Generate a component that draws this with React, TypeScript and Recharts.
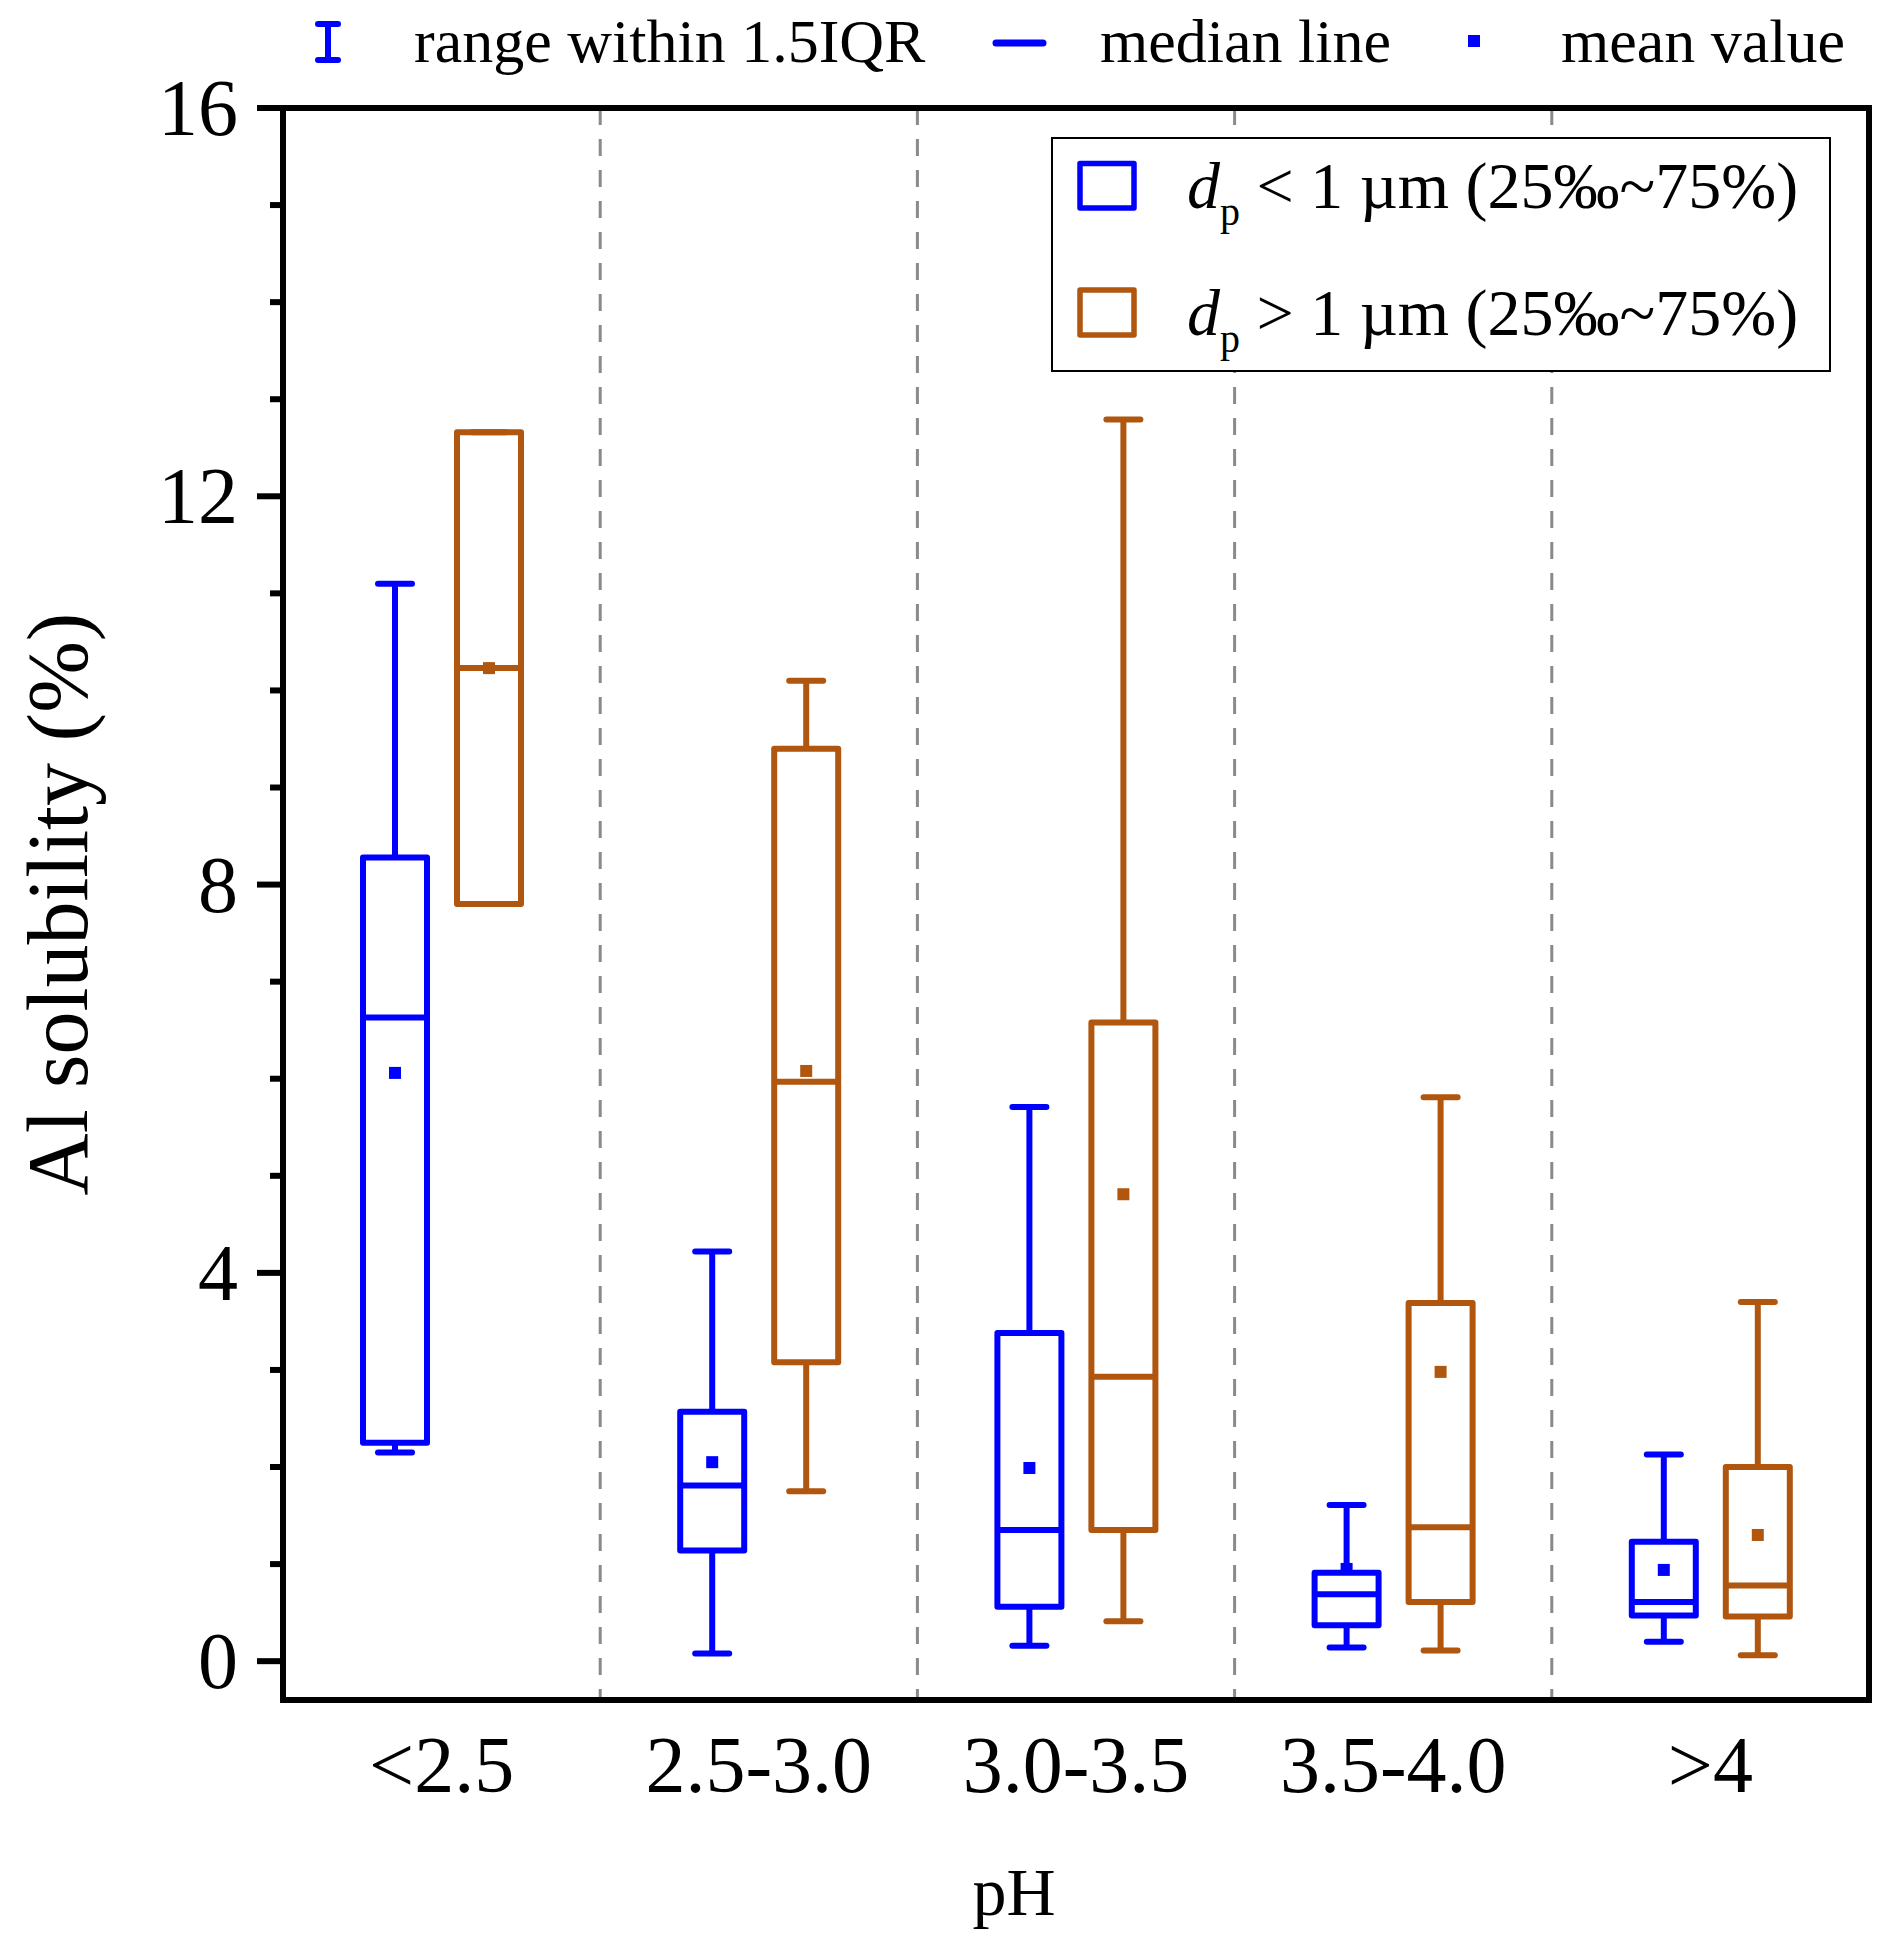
import React from 'react'
import {
  ComposedChart,
  Bar,
  XAxis,
  YAxis,
  CartesianGrid,
  Legend,
} from 'recharts'

const FONT = '"Liberation Serif", "Times New Roman", Times, serif'
const BLUE = '#0000FF'
const ORANGE = '#B0560F'

// pH classes
const categories = ['<2.5', '2.5-3.0', '3.0-3.5', '3.5-4.0', '>4']

// dp < 1 µm
const fineMin = [2.15, 0.08, 0.16, 0.14, 0.2]
const fineQ1 = [2.25, 1.14, 0.56, 0.37, 0.47]
const fineMedian = [6.63, 1.81, 1.35, 0.69, 0.61]
const fineQ3 = [8.28, 2.57, 3.38, 0.91, 1.23]
const fineMax = [11.1, 4.22, 5.71, 1.61, 2.13]
const fineMean = [6.06, 2.05, 1.99, 0.95, 0.94]

// dp > 1 µm
const coarseMin = [7.8, 1.75, 0.41, 0.11, 0.06]
const coarseQ1 = [7.8, 3.08, 1.35, 0.61, 0.46]
const coarseMedian = [10.23, 5.97, 2.93, 1.38, 0.78]
const coarseQ3 = [12.66, 9.4, 6.58, 3.69, 2.0]
const coarseMax = [12.66, 10.1, 12.79, 5.81, 3.7]
const coarseMean = [10.23, 6.08, 4.81, 2.98, 1.3]

const yTicks = [0, 1, 2, 3, 4, 5, 6, 7, 8, 9, 10, 11, 12, 13, 14, 15, 16]

interface BoxStats {
  min: number
  q1: number
  median: number
  q3: number
  max: number
  mean: number
}

const rows = categories.map((cat, i) => ({
  cat,
  fine: {
    min: fineMin[i],
    q1: fineQ1[i],
    median: fineMedian[i],
    q3: fineQ3[i],
    max: fineMax[i],
    mean: fineMean[i],
  } as BoxStats,
  coarse: {
    min: coarseMin[i],
    q1: coarseQ1[i],
    median: coarseMedian[i],
    q3: coarseQ3[i],
    max: coarseMax[i],
    mean: coarseMean[i],
  } as BoxStats,
}))

// the bar spans min..max, everything else is placed on that same scale
const makeBox = (key: 'fine' | 'coarse', color: string) => (props: any) => {
  const { x, y, width, height, payload } = props
  const s: BoxStats = payload[key]
  const top = Math.min(y, y + height)
  const bottom = Math.max(y, y + height)
  const span = s.max - s.min || 1
  const toPx = (v: number) => bottom - ((v - s.min) / span) * (bottom - top)
  const cx = x + width / 2
  const cap = 17
  const sw = 6
  return (
    <g>
      <line x1={cx} x2={cx} y1={toPx(s.max)} y2={toPx(s.q3)} stroke={color} strokeWidth={sw} />
      <line x1={cx} x2={cx} y1={toPx(s.q1)} y2={toPx(s.min)} stroke={color} strokeWidth={sw} />
      <line x1={cx - cap} x2={cx + cap} y1={toPx(s.max)} y2={toPx(s.max)} stroke={color} strokeWidth={sw} strokeLinecap="round" />
      <line x1={cx - cap} x2={cx + cap} y1={toPx(s.min)} y2={toPx(s.min)} stroke={color} strokeWidth={sw} strokeLinecap="round" />
      <rect
        x={x}
        y={toPx(s.q3)}
        width={width}
        height={toPx(s.q1) - toPx(s.q3)}
        fill="none"
        stroke={color}
        strokeWidth={sw}
        strokeLinejoin="round"
      />
      <line x1={x} x2={x + width} y1={toPx(s.median)} y2={toPx(s.median)} stroke={color} strokeWidth={sw} />
      <rect x={cx - 6} y={toPx(s.mean) - 6} width={12} height={12} fill={color} />
    </g>
  )
}

const YTick = ({ x, y, payload }: any) => {
  const major = payload.value % 4 === 0
  return (
    <g>
      <line x1={x} x2={x - (major ? 26 : 13)} y1={y} y2={y} stroke="#000" strokeWidth={6} />
      {major && (
        <text x={x - 45} y={y + 27} textAnchor="end" fontFamily={FONT} fontSize={80} fill="#000">
          {payload.value}
        </text>
      )}
    </g>
  )
}

const XTick = ({ x, y, payload }: any) => (
  <text x={x} y={y + 92} textAnchor="middle" fontFamily={FONT} fontSize={80} fill="#000">
    {payload.value}
  </text>
)

const YTitle = (props: any) => {
  const vb = props.viewBox
  const cx = vb.x + 58
  const cy = vb.y + vb.height / 2
  return (
    <text
      x={cx}
      y={cy}
      transform={`rotate(-90 ${cx} ${cy})`}
      textAnchor="middle"
      dominantBaseline="central"
      fontFamily={FONT}
      fontSize={86}
      fill="#000"
    >
      Al solubility (%)
    </text>
  )
}

const XTitle = (props: any) => {
  const vb = props.viewBox
  return (
    <text x={vb.x + 731} y={vb.y + 215} textAnchor="middle" fontFamily={FONT} fontSize={68} fill="#000">
      pH
    </text>
  )
}

// dashed separators sit on the band edges between the pH classes
const separatorXs = ({ xAxis, offset }: any) => {
  const scale = xAxis && xAxis.scale
  if (typeof scale === 'function') {
    const xs = categories.slice(1).map(c => scale(c))
    if (xs.every((v: any) => typeof v === 'number' && !isNaN(v))) return xs
  }
  const step = offset.width / categories.length
  return categories.slice(1).map((_, i) => offset.left + step * (i + 1))
}

const Legends = () => (
  <svg width={1892} height={400} style={{ display: 'block', fontFamily: FONT }}>
    {/* top legend */}
    <line x1={328} x2={328} y1={24} y2={60} stroke={BLUE} strokeWidth={6} />
    <line x1={318} x2={338} y1={24} y2={24} stroke={BLUE} strokeWidth={6} strokeLinecap="round" />
    <line x1={318} x2={338} y1={60} y2={60} stroke={BLUE} strokeWidth={6} strokeLinecap="round" />
    <text x={414} y={62} fontSize={62} fill="#000">range within 1.5IQR</text>
    <line x1={996} x2={1043} y1={43} y2={43} stroke={BLUE} strokeWidth={7} strokeLinecap="round" />
    <text x={1100} y={62} fontSize={62} fill="#000">median line</text>
    <rect x={1468} y={35} width={12} height={12} fill={BLUE} />
    <text x={1561} y={62} fontSize={62} fill="#000">mean value</text>

    {/* series legend */}
    <rect x={1052} y={138} width={778} height={233} fill="#fff" stroke="#000" strokeWidth={2} />
    <rect x={1080} y={163.5} width={54} height={44.5} fill="none" stroke={BLUE} strokeWidth={5.5} strokeLinejoin="round" />
    <text x={1187} y={208} fontSize={66} fill="#000" style={{ whiteSpace: 'pre' }}>
      <tspan fontStyle="italic">d</tspan>
      <tspan fontSize={40} dy={17}>p</tspan>
      <tspan dy={-17}>{' < 1 µm (25‰~75%)'}</tspan>
    </text>
    <rect x={1080} y={290} width={54} height={45} fill="none" stroke={ORANGE} strokeWidth={5.5} strokeLinejoin="round" />
    <text x={1187} y={335} fontSize={66} fill="#000" style={{ whiteSpace: 'pre' }}>
      <tspan fontStyle="italic">d</tspan>
      <tspan fontSize={40} dy={17}>p</tspan>
      <tspan dy={-17}>{' > 1 µm (25‰~75%)'}</tspan>
    </text>
  </svg>
)

const frame = { stroke: '#000', strokeWidth: 6, strokeLinecap: 'square' as const }

export default function App() {
  return (
    <div style={{ position: 'absolute', left: 0, top: 0, width: 1892, height: 1949, background: '#fff' }}>
      <ComposedChart
        width={1892}
        height={1949}
        data={rows}
        margin={{ top: 107, right: 22, left: 0, bottom: 49 }}
        barSize={64}
        barGap={30}
      >
        <CartesianGrid
          horizontal={false}
          vertical
          verticalCoordinatesGenerator={separatorXs}
          stroke="#8a8a8a"
          strokeWidth={3}
          strokeDasharray="17 14"
        />
        <XAxis
          dataKey="cat"
          height={200}
          axisLine={frame}
          tickLine={false}
          tickSize={0}
          tickMargin={0}
          tick={<XTick />}
          interval={0}
          label={(p: any) => <XTitle {...p} />}
        />
        <XAxis
          xAxisId="top"
          dataKey="cat"
          orientation="top"
          height={1}
          axisLine={frame}
          tick={false}
          tickLine={false}
        />
        <YAxis
          domain={[-0.4, 16]}
          ticks={yTicks}
          allowDataOverflow
          width={283}
          axisLine={frame}
          tickLine={false}
          tickSize={0}
          tickMargin={0}
          tick={<YTick />}
          interval={0}
          label={(p: any) => <YTitle {...p} />}
        />
        <YAxis
          yAxisId="right"
          orientation="right"
          domain={[-0.4, 16]}
          width={1}
          axisLine={frame}
          tick={false}
          tickLine={false}
        />
        <Bar
          dataKey={(r: any) => [r.fine.min, r.fine.max]}
          name="fine"
          shape={makeBox('fine', BLUE)}
          isAnimationActive={false}
        />
        <Bar
          dataKey={(r: any) => [r.coarse.min, r.coarse.max]}
          name="coarse"
          shape={makeBox('coarse', ORANGE)}
          isAnimationActive={false}
        />
        <Legend
          layout="horizontal"
          verticalAlign="middle"
          align="center"
          wrapperStyle={{ left: 0, top: 0, width: 1892, height: 400, pointerEvents: 'none' }}
          content={() => <Legends />}
        />
      </ComposedChart>
    </div>
  )
}
